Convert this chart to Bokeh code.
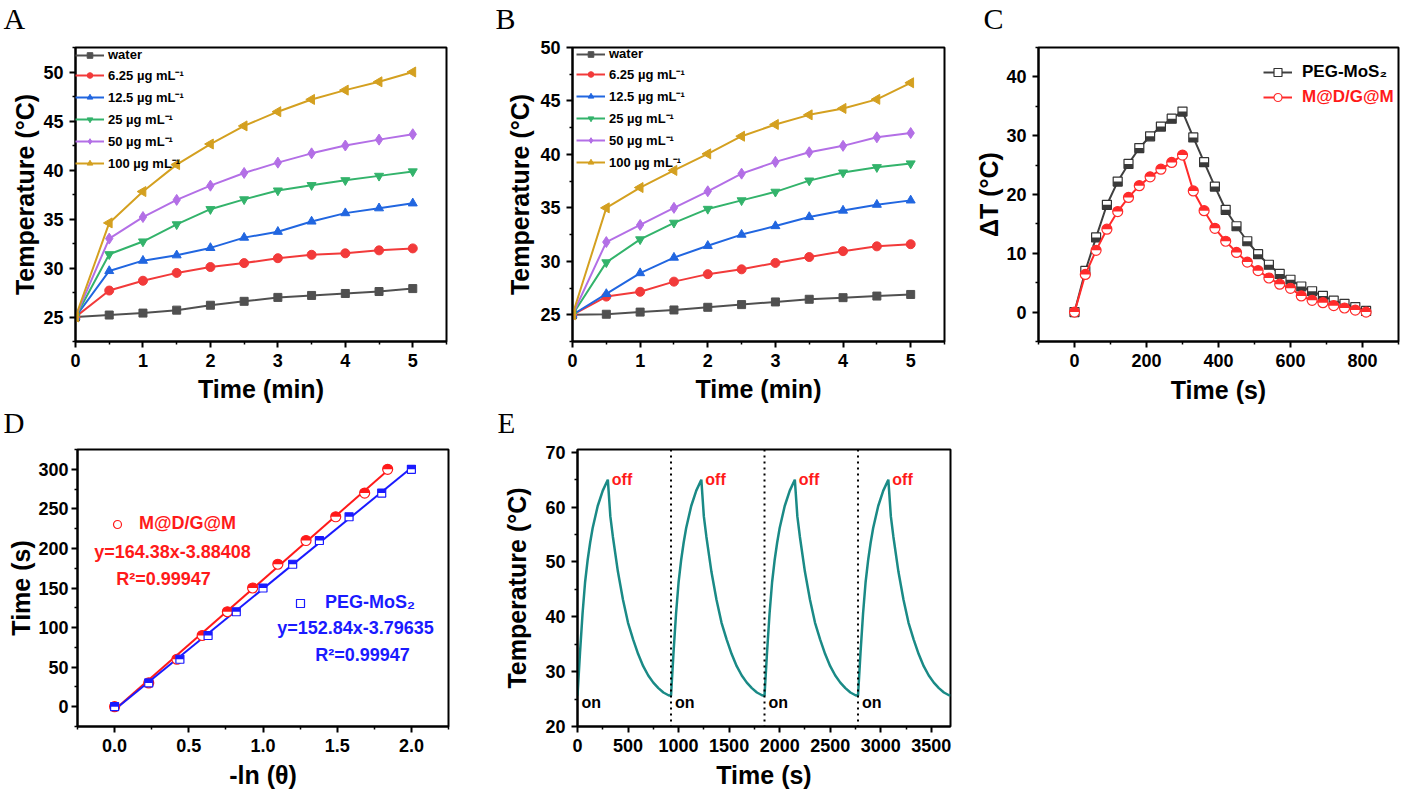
import math
from bokeh.plotting import figure
from bokeh.layouts import row, column
from bokeh.models import (Range1d, FixedTicker, Legend, LegendItem, Label, Span,
                          PrintfTickFormatter)
from bokeh.core.properties import value
from bokeh.embed import file_html
from bokeh.resources import INLINE

FONT = "Liberation Sans"
SERIF = "Liberation Serif"

# ---------------- data ----------------
# Panel A / B : heating curves
time_min = [0, 0.5, 1, 1.5, 2, 2.5, 3, 3.5, 4, 4.5, 5]
conc_labels = ["water", "6.25 µg mL⁻¹", "12.5 µg mL⁻¹", "25 µg mL⁻¹", "50 µg mL⁻¹", "100 µg mL⁻¹"]
A_water = [25.0, 25.2, 25.4, 25.7, 26.2, 26.6, 27.0, 27.2, 27.4, 27.6, 27.9]
A_625 = [25.0, 27.7, 28.7, 29.5, 30.1, 30.5, 31.0, 31.35, 31.5, 31.8, 32.0]
A_125 = [25.0, 29.7, 30.75, 31.3, 32.05, 33.1, 33.7, 34.75, 35.6, 36.1, 36.6]
A_25 = [25.0, 31.4, 32.7, 34.45, 36.0, 37.0, 37.9, 38.45, 38.95, 39.4, 39.85]
A_50 = [25.0, 33.0, 35.2, 36.95, 38.4, 39.7, 40.75, 41.7, 42.5, 43.1, 43.65]
A_100 = [25.0, 34.6, 37.8, 40.55, 42.65, 44.5, 45.95, 47.2, 48.15, 49.0, 50.0]

B_water = [25.0, 25.05, 25.25, 25.45, 25.7, 25.95, 26.2, 26.45, 26.6, 26.75, 26.9]
B_625 = [25.0, 26.7, 27.15, 28.1, 28.8, 29.25, 29.85, 30.4, 30.95, 31.4, 31.6]
B_125 = [25.0, 26.95, 28.9, 30.35, 31.45, 32.5, 33.3, 34.15, 34.75, 35.3, 35.7]
B_25 = [25.0, 29.9, 32.05, 33.6, 34.9, 35.7, 36.5, 37.55, 38.3, 38.8, 39.15]
B_50 = [25.0, 31.8, 33.4, 35.0, 36.55, 38.2, 39.3, 40.2, 40.8, 41.6, 42.0]
B_100 = [25.0, 35.0, 36.9, 38.5, 40.05, 41.7, 42.8, 43.7, 44.3, 45.15, 46.7]

# Panel C : heating / cooling
C_time = [0, 30, 60, 90, 120, 150, 180, 210, 240, 270, 300, 330, 360, 390, 420,
          450, 480, 510, 540, 570, 600, 630, 660, 690, 720, 750, 780, 810]
C_peg = [0, 7.0, 12.7, 18.25, 22.2, 25.2, 27.9, 29.9, 31.55, 32.9, 34.1, 29.7, 25.5, 21.35,
         17.4, 14.6, 12.05, 9.85, 8.05, 6.5, 5.5, 4.35, 3.55, 2.75, 1.95, 1.4, 0.85, 0.2]
C_mdgm = [0, 6.4, 10.5, 14.1, 17.1, 19.5, 21.5, 23.0, 24.3, 25.45, 26.7, 20.6, 17.25, 14.25,
          12.05, 10.15, 8.5, 7.05, 5.8, 4.75, 4.05, 2.75, 2.0, 1.6, 1.1, 0.7, 0.35, 0.0]

# Panel D : -ln(theta) vs time
D_time = [0, 30, 60, 90, 120, 150, 180, 210, 240, 270, 300]
D_x_mdgm = [0.0, 0.23, 0.42, 0.59, 0.76, 0.93, 1.10, 1.29, 1.49, 1.685, 1.84]
D_x_peg = [0.0, 0.23, 0.44, 0.63, 0.82, 1.00, 1.20, 1.38, 1.58, 1.80, 2.00]
fit_mdgm = (164.38, -3.88408)
fit_peg = (152.84, -3.79635)

# Panel E : on/off cycles
cycle_starts = [0, 925, 1850, 2775]
cycle_offsets = [0, 25, 50, 75, 100, 125, 150, 200, 250, 300, 325, 350, 400, 450, 500,
                 550, 600, 650, 700, 750, 800, 850, 900]
cycle_temps = [25.6, 33.5, 40.6, 46.3, 50.3, 53.5, 56.2, 60.2, 63.0, 65.0, 58.3, 54.6, 48.2,
               43.1, 38.9, 35.9, 33.2, 31.0, 29.3, 28.0, 27.0, 26.2, 25.7]
E_end_time = 3690
E_end_temp = 25.7
off_times = [300, 1225, 2150, 3075]
off_temps = [65.0, 65.0, 65.0, 65.0]
on_times = [0, 925, 1850, 2775]
on_temps = [25.6, 25.6, 25.6, 25.6]

E_time, E_temp = [], []
for s in cycle_starts:
    for o, t in zip(cycle_offsets, cycle_temps):
        E_time.append(s + o)
        E_temp.append(t)
E_time.append(E_end_time)
E_temp.append(E_end_temp)

# panel letters
top_letters = ["A", "B", "C"]
top_letter_x = [3, 495, 983]
bottom_letters = ["D", "E"]
bottom_letter_x = [3, 497]


# ---------------- helpers ----------------
def make_fig(W, H, bl, br, bt, bb, xr, yr, xt, xmin, yt, ymin, xlabel, ylabel, xstd, ystd,
             ystandoff=6):
    p = figure(width=W, height=H, x_range=Range1d(*xr), y_range=Range1d(*yr),
               output_backend="svg", toolbar_location=None,
               min_border_left=bl, min_border_right=br, min_border_top=bt, min_border_bottom=bb)
    p.grid.visible = False
    p.outline_line_color = "black"
    p.outline_line_width = 2
    p.outline_line_alpha = 1
    p.background_fill_color = "white"
    p.border_fill_color = "white"
    p.xaxis.ticker = FixedTicker(ticks=xt, minor_ticks=xmin)
    p.yaxis.ticker = FixedTicker(ticks=yt, minor_ticks=ymin)
    p.xaxis.axis_label = xlabel
    p.yaxis.axis_label = ylabel
    p.xaxis.axis_label_standoff = xstd
    p.yaxis.axis_label_standoff = ystd
    for ax in (p.xaxis[0], p.yaxis[0]):
        ax.axis_line_width = 2
        ax.axis_line_color = "black"
        ax.major_tick_line_width = 2
        ax.major_tick_line_color = "black"
        ax.major_tick_out = 6
        ax.major_tick_in = 0
        ax.minor_tick_out = 3
        ax.minor_tick_in = 0
        ax.minor_tick_line_width = 1.5
        ax.minor_tick_line_color = "black"
        ax.major_label_text_font = FONT
        ax.major_label_text_font_style = "bold"
        ax.major_label_text_font_size = "18px"
        ax.major_label_text_color = "black"
        ax.major_label_standoff = 6
        ax.axis_label_text_font = FONT
        ax.axis_label_text_font_style = "bold"
        ax.axis_label_text_font_size = "25px"
        ax.axis_label_text_color = "black"
    p.yaxis.major_label_standoff = ystandoff
    return p


def letter_strip(W, H, letters, xs, center_y, size):
    s = figure(width=W, height=H, x_range=Range1d(0, W), y_range=Range1d(0, H),
               output_backend="svg", toolbar_location=None,
               x_axis_location=None, y_axis_location=None,
               min_border_left=0, min_border_right=0, min_border_top=0, min_border_bottom=0)
    s.grid.visible = False
    s.outline_line_color = None
    s.background_fill_color = "white"
    s.border_fill_color = "white"
    s.text(x=xs, y=[center_y] * len(xs), text=letters, text_font=value(SERIF),
           text_font_size=size, text_color="black", text_baseline="middle",
           text_align="left")
    return s


def style_legend(leg, size, color="black"):
    leg.label_text_font = FONT
    leg.label_text_font_style = "bold"
    leg.label_text_font_size = size
    leg.label_text_color = color
    leg.background_fill_alpha = 0
    leg.border_line_alpha = 0
    leg.margin = 0
    leg.padding = 0


def half_square(p, xs, ys, color, size, ppu, top):
    h = size / 2.0 / ppu
    yc = [y + h / 2 if top else y - h / 2 for y in ys]
    p.rect(x=xs, y=yc, width=size, height=h, width_units="screen",
           fill_color=color, line_color=None)


def half_circle(p, xs, ys, color, size, top):
    a0, a1 = (0, math.pi) if top else (math.pi, 2 * math.pi)
    p.wedge(x=xs, y=ys, radius=size / 2.0, radius_units="screen",
            start_angle=a0, end_angle=a1, fill_color=color, line_color=None)


colors = ["#505050", "#F23A3A", "#2166E0", "#33B36B", "#B36FE6", "#D4A020"]
markers = [("square", 0), ("circle", 0), ("triangle", 0), ("inverted_triangle", 0),
           ("diamond", 0), ("triangle", math.pi / 2)]
msizes = [8, 9, 9, 9, 11, 10]


def heating_panel(p, series, loc):
    items = []
    for lab, ys, c, (m, ang), ms in zip(conc_labels, series, colors, markers, msizes):
        l = p.line(time_min, ys, line_color=c, line_width=2)
        s = p.scatter(time_min, ys, marker=m, angle=ang, size=ms, fill_color=c, line_color=c)
        items.append(LegendItem(label=lab, renderers=[l, s]))
    leg = Legend(items=items, location=loc)
    style_legend(leg, "13px")
    leg.glyph_width = 29
    leg.glyph_height = 14
    leg.label_height = 14
    leg.spacing = 4
    leg.label_standoff = 4
    p.add_layout(leg)


# ---------------- top strip ----------------
strip1 = letter_strip(1400, 35, top_letters, top_letter_x, 17.5, "30px")

# ---------------- panel A ----------------
pA = make_fig(470, 371, 75, 24, 8, 64, (0, 5.5), (22.5, 52.5),
              [0, 1, 2, 3, 4, 5], [0.5, 1.5, 2.5, 3.5, 4.5, 5.5],
              [25, 30, 35, 40, 45, 50], [22.5, 27.5, 32.5, 37.5, 42.5, 47.5, 52.5],
              "Time (min)", "Temperature (°C)", 5, 1)
heating_panel(pA, [A_water, A_625, A_125, A_25, A_50, A_100], (0, 169))

# ---------------- panel B ----------------
pB = make_fig(476, 371, 102, 2, 8, 64, (0, 5.5), (22.5, 50),
              [0, 1, 2, 3, 4, 5], [0.5, 1.5, 2.5, 3.5, 4.5, 5.5],
              [25, 30, 35, 40, 45, 50], [22.5, 27.5, 32.5, 37.5, 42.5, 47.5],
              "Time (min)", "Temperature (°C)", 5, 3)
heating_panel(pB, [B_water, B_625, B_125, B_25, B_50, B_100], (4, 170))

# ---------------- panel C ----------------
pC = make_fig(454, 371, 92, 2, 12, 65, (-100, 900), (-5, 45),
              [0, 200, 400, 600, 800], [-100, 100, 300, 500, 700, 900],
              [0, 10, 20, 30, 40], [-5, 5, 15, 25, 35, 45],
              "Time (s)", "ΔT (°C)", 6, 0)
ppuC = 294 / 50.0
lc1 = pC.line(C_time, C_peg, line_color="#404040", line_width=2)
sc1 = pC.scatter(C_time, C_peg, marker="square", size=9, fill_color="white", line_color="#333333", line_width=1.2)
half_square(pC, C_time, C_peg, "#3a3a3a", 9, ppuC, top=False)
lc2 = pC.line(C_time, C_mdgm, line_color="#FF2B2B", line_width=2)
sc2 = pC.scatter(C_time, C_mdgm, marker="circle", size=10, fill_color="white", line_color="#FF2B2B", line_width=1.2)
half_circle(pC, C_time, C_mdgm, "#FF2B2B", 10, top=True)
for rend, lab, col, yb in [([lc1, sc1], "PEG-MoS₂", "black", 259), ([lc2, sc2], "M@D/G@M", "#FF1A1A", 234)]:
    lg = Legend(items=[LegendItem(label=lab, renderers=rend)], location=(225, yb))
    style_legend(lg, "17px", col)
    lg.glyph_width = 29
    lg.glyph_height = 20
    lg.label_height = 20
    lg.label_standoff = 10
    pC.add_layout(lg)

# ---------------- bottom strip ----------------
strip2 = letter_strip(1400, 33, bottom_letters, bottom_letter_x, 16.5, "29px")

# ---------------- panel D ----------------
pD = make_fig(470, 352, 77, 22, 10, 65, (-0.25, 2.25), (-25, 325),
              [0, 0.5, 1.0, 1.5, 2.0], [-0.25, 0.25, 0.75, 1.25, 1.75, 2.25],
              [0, 50, 100, 150, 200, 250, 300], [-25, 25, 75, 125, 175, 225, 275, 325],
              "-ln (θ)", "Time (s)", 6, 0, ystandoff=3)
pD.xaxis.formatter = PrintfTickFormatter(format="%.1f")
ppuD = 277 / 350.0
RED = "#FF1A1A"
BLUE = "#1A1AFF"
for (slope, icpt), xs, col in [(fit_mdgm, D_x_mdgm, RED), (fit_peg, D_x_peg, BLUE)]:
    fx = [0.0, max(xs)]
    pD.line(fx, [slope * v + icpt for v in fx], line_color=col, line_width=2)
sd1 = pD.scatter(D_x_mdgm, D_time, marker="circle", size=10, fill_color="white", line_color=RED, line_width=1.2)
half_circle(pD, D_x_mdgm, D_time, RED, 10, top=True)
sd2 = pD.scatter(D_x_peg, D_time, marker="square", size=8, fill_color="white", line_color=BLUE, line_width=1.2)
half_square(pD, D_x_peg, D_time, BLUE, 8, ppuD, top=True)
for rend, lab, col, loc, std in [(sd1, "M@D/G@M", RED, (30, 192), 12), (sd2, "PEG-MoS₂", BLUE, (213, 113), 15)]:
    lg = Legend(items=[LegendItem(label=lab, renderers=[rend])], location=loc)
    style_legend(lg, "18px", col)
    lg.glyph_width = 20
    lg.glyph_height = 20
    lg.label_height = 20
    lg.label_standoff = std
    pD.add_layout(lg)
for txt, x, y, col in [("y=164.38x-3.88408", 95, 175, RED), ("R²=0.99947", 86, 148, RED),
                       ("y=152.84x-3.79635", 278, 99, BLUE), ("R²=0.99947", 285, 72, BLUE)]:
    pD.add_layout(Label(x=x, y=y, x_units="screen", y_units="screen", text=txt,
                        text_font=FONT, text_font_style="bold", text_font_size="18px",
                        text_color=col, text_align="center", text_baseline="middle"))

# ---------------- panel E ----------------
pE = make_fig(482, 352, 107, 2, 10, 65, (0, 3690), (20, 70.5),
              [0, 500, 1000, 1500, 2000, 2500, 3000, 3500],
              [250, 750, 1250, 1750, 2250, 2750, 3250],
              [20, 30, 40, 50, 60, 70], [25, 35, 45, 55, 65],
              "Time (s)", "Temperature (°C)", 6, 11)
for t in on_times[1:]:
    pE.add_layout(Span(location=t, dimension="height", line_color="black",
                       line_dash="2 4", line_width=2))
pE.line(E_time, E_temp, line_color="#1A8A86", line_width=2.5)
pE.text(x=off_times, y=off_temps, text=["off"] * len(off_times), text_font=value(FONT),
        text_font_style="bold", text_font_size="16px", text_color="#FF1A1A",
        text_baseline="middle", text_align="left", x_offset=4)
pE.text(x=on_times, y=on_temps, text=["on"] * len(on_times), text_font=value(FONT),
        text_font_style="bold", text_font_size="16px", text_color="black",
        text_baseline="middle", text_align="left", x_offset=4, y_offset=7)

layout = column(strip1, row(pA, pB, pC), strip2, row(pD, pE))

with open("out.html", "w") as f:
    f.write(file_html(layout, INLINE))
